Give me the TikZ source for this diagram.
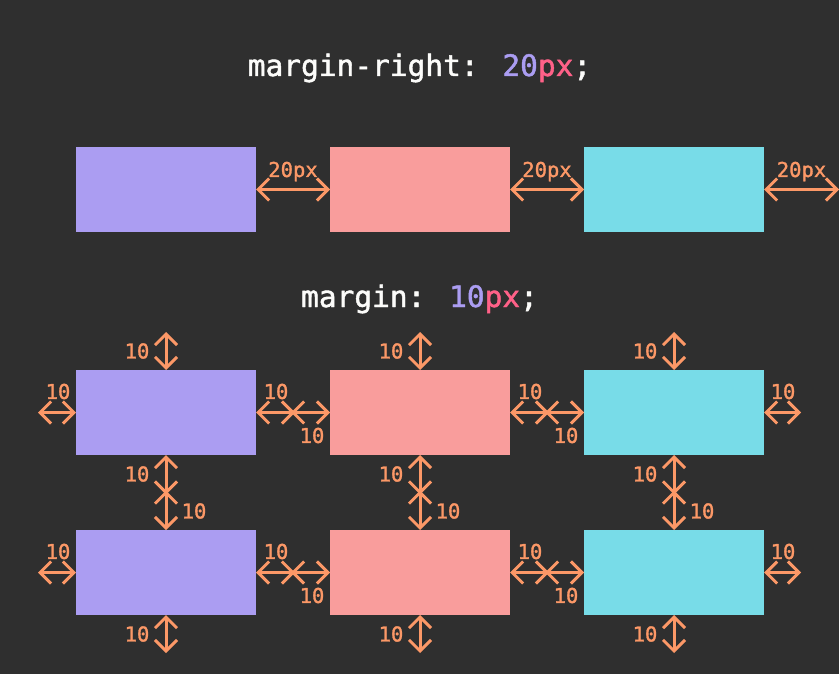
\documentclass[tikz,border=0pt]{standalone}
\usepackage{fontspec}
\newfontfamily\mono[FakeBold=1.5]{DejaVu Sans Mono}
\usetikzlibrary{arrows.meta,calc}
\definecolor{bg}{HTML}{2F2F2F}
\definecolor{boxpurple}{HTML}{AB9DF2}
\definecolor{boxpink}{HTML}{F99D9C}
\definecolor{boxcyan}{HTML}{78DCE8}
\definecolor{orng}{HTML}{FC9867}
\definecolor{titlewhite}{HTML}{FCFCFA}
\definecolor{numpurple}{HTML}{AB9DF2}
\definecolor{pxpink}{HTML}{FF6188}
\begin{document}
\begin{tikzpicture}[x=1pt,y=-1pt,
  box/.style={minimum width=180pt,minimum height=85pt,inner sep=0pt,outer sep=0pt},
  marr/.style={draw=orng,line width=3pt,{Straight Barb[length=11pt,width=22pt]}-{Straight Barb[length=11pt,width=22pt]}},
  tomid/.style={marr,shorten >=-2pt},
  frommid/.style={marr,shorten <=-2pt},
  lbl/.style={text=orng,font=\mono\fontsize{20.5}{21}\selectfont,inner sep=0pt},
  ttl/.style={text=titlewhite,font=\mono\fontsize{29.5}{30}\selectfont,anchor=base,inner sep=0pt}]
\fill[bg] (0,0) rectangle (839,674);
\useasboundingbox (0,0) rectangle (839,674);

% titles
\node[ttl] (t1) at (419.5,76) {margin-right: \textcolor{numpurple}{20}\textcolor{pxpink}{px};};
\node[ttl] (t2) at (419.5,307) {margin: \textcolor{numpurple}{10}\textcolor{pxpink}{px};};

% row 1
\node[box,fill=boxpurple] (a1) at (166,189.5) {};
\node[box,fill=boxpink]   (a2) at (420,189.5) {};
\node[box,fill=boxcyan]   (a3) at (674,189.5) {};
\coordinate (aend) at (839,189.5);
\draw[marr] (a1.east) -- (a2.west);
\draw[marr] (a2.east) -- (a3.west);
\draw[marr] (a3.east) -- (aend);
\node[lbl,anchor=base] (l20a) at (293,177) {20px};
\node[lbl,anchor=base] (l20b) at (547,177) {20px};
\node[lbl,anchor=base] (l20c) at (801.5,177) {20px};

% rows 2 and 3
\foreach \r/\y in {b/412.5,c/572.5}{
  \node[box,fill=boxpurple] (\r1) at (166,\y) {};
  \node[box,fill=boxpink]   (\r2) at (420,\y) {};
  \node[box,fill=boxcyan]   (\r3) at (674,\y) {};
  \coordinate (\r L) at (38,\y);
  \coordinate (\r R) at (801,\y);
  \coordinate (\r m12) at ($(\r1.east)!0.5!(\r2.west)$);
  \coordinate (\r m23) at ($(\r2.east)!0.5!(\r3.west)$);
  \draw[marr] (\r L) -- (\r1.west);
  \draw[tomid] (\r1.east) -- (\r m12);
  \draw[frommid] (\r m12) -- (\r2.west);
  \draw[tomid] (\r2.east) -- (\r m23);
  \draw[frommid] (\r m23) -- (\r3.west);
  \draw[marr] (\r3.east) -- (\r R);
  \node[lbl] (\r lL) at (58,\y-21) {10};
  \node[lbl] (\r lR) at (783,\y-21) {10};
  \node[lbl] (\r la) at (276,\y-21) {10};
  \node[lbl] (\r lb) at (312,\y+23) {10};
  \node[lbl] (\r lc) at (530,\y-21) {10};
  \node[lbl] (\r ld) at (566,\y+23) {10};
}

% vertical margins
\foreach \i/\x in {1/166,2/420,3/674}{
  \coordinate (top\i) at (\x,332);
  \coordinate (bot\i) at (\x,653);
  \coordinate (vm\i) at ($(b\i.south)!0.5!(c\i.north)$);
  \draw[marr] (top\i) -- (b\i.north);
  \draw[tomid] (b\i.south) -- (vm\i);
  \draw[frommid] (vm\i) -- (c\i.north);
  \draw[marr] (c\i.south) -- (bot\i);
  \node[lbl] (vt\i) at (\x-29,351) {10};
  \node[lbl] (va\i) at (\x-29,474) {10};
  \node[lbl] (vb\i) at (\x+28,511) {10};
  \node[lbl] (vd\i) at (\x-29,634) {10};
}
\end{tikzpicture}
\end{document}
